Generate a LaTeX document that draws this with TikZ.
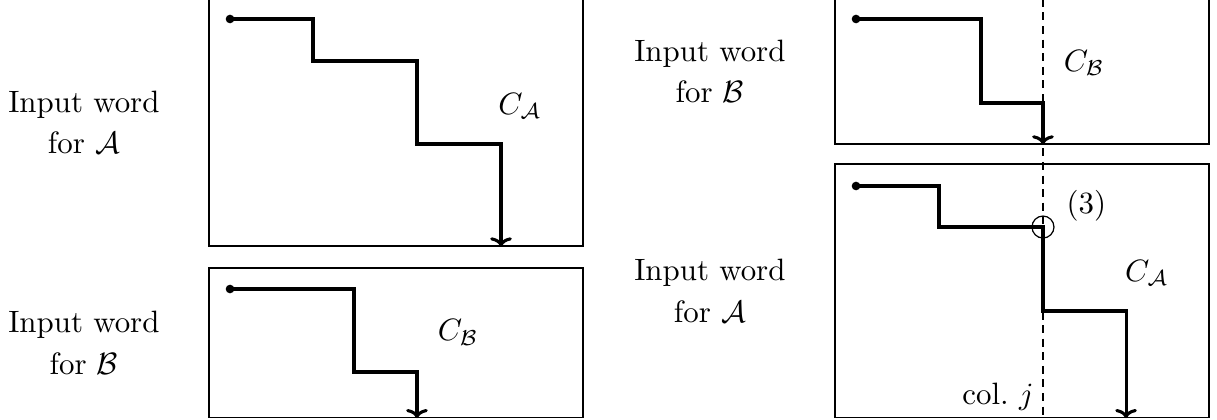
\documentclass[tikz,border=0pt]{standalone}
\usepackage{amsmath,amssymb}
\usepackage{tikz}
\usetikzlibrary{positioning, arrows.meta}

\begin{document}
\begin{tikzpicture}[
    x=1cm, y=1cm,
    frame/.style={rectangle, draw, line width=0.35pt, inner sep=0pt, minimum width=4.255cm},
    word/.style={align=center, inner sep=2pt},
    dot/.style={circle, fill, inner sep=0pt, minimum size=2.8pt},
    run/.style={-{To[length=3pt, width=7pt]}, line width=1pt},
    col/.style={dash pattern=on 2.6pt off 1.8pt, line width=0.4pt},
    lbl/.style={inner sep=1pt},
]
    \useasboundingbox (0,0) rectangle (13.846, 4.767);

    % --- frames (left pair, right pair) ---
    \node[frame, minimum height=2.81cm]  (boxA1) at ( 4.5055, 3.373) {};
    \node[frame, minimum height=1.703cm] (boxB1) at ( 4.5055, 0.8665) {};
    \node[frame, minimum height=1.649cm] (boxB2) at (11.6275, 3.9535) {};
    \node[frame, minimum height=2.886cm] (boxA2) at (11.6275, 1.458) {};

    % input words, to the left of each frame
    \node[word, left=0.48cm of boxA1] (inA1) {Input word\\[1.5pt] for $\mathcal{A}$};
    \node[word, left=0.48cm of boxB1] (inB1) {Input word\\[1.5pt] for $\mathcal{B}$};
    \node[word, left=0.48cm of boxB2] (inB2) {Input word\\[1.5pt] for $\mathcal{B}$};
    \node[word, left=0.48cm of boxA2] (inA2) {Input word\\[1.5pt] for $\mathcal{A}$};

    % start dots
    \node[dot] (dotA1) at (2.617, 4.551) {};
    \node[dot] (dotB1) at (2.617, 1.479) {};
    \node[dot] (dotB2) at (9.739, 4.551) {};
    \node[dot] (dotA2) at (9.739, 2.651) {};

    % column j (dashed), through both right frames
    \coordinate (coltop) at (11.866, 4.78);
    \draw[col] (coltop) -- (coltop |- boxA2.south);

    % --- runs ---
    \draw[run] (dotA1.center) -| (3.561, 4.073) -| (4.744, 3.129) -| (5.700, 0 |- boxA1.south);
    \draw[run] (dotB1.center) -| (4.027, 0.535) -| (4.744, 0 |- boxB1.south);
    \draw[run] (dotB2.center) -| (11.161, 3.595) -| (11.866, 0 |- boxB2.south);
    \draw[run] (dotA2.center) -| (10.683, 2.184) -| (11.866, 1.229) -| (12.811, 0 |- boxA2.south);

    % meeting point on column j
    \node[circle, draw, line width=0.4pt, inner sep=0pt, minimum size=0.25cm] (hit) at (11.866, 2.184) {};

    % labels
    \node[lbl] (cA1) at ( 5.916, 3.561) {$C_{\mathcal{A}}$};
    \node[lbl] (cB1) at ( 5.211, 0.985) {$C_{\mathcal{B}}$};
    \node[lbl] (cB2) at (12.333, 4.050) {$C_{\mathcal{B}}$};
    \node[lbl] (cA2) at (13.049, 1.661) {$C_{\mathcal{A}}$};
    \node[lbl] (three) at (12.360, 2.423) {(3)};
    \node[lbl] (colj) at (11.354, 0.250) {col.\ $j$};
\end{tikzpicture}
\end{document}
